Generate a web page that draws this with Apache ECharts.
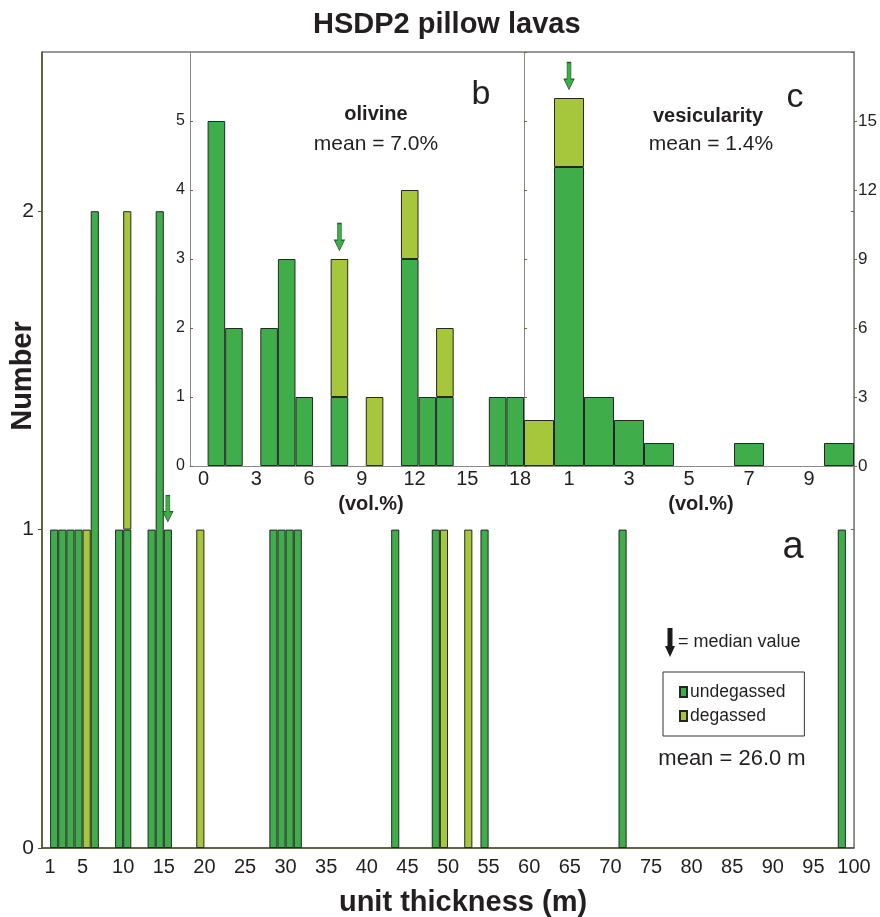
<!DOCTYPE html>
<html><head><meta charset="utf-8">
<script src="https://cdn.jsdelivr.net/npm/echarts@6/dist/echarts.min.js"></script>
<style>html,body{margin:0;padding:0;background:#fff}#c{width:880px;height:917px}</style>
</head><body><div id="c"></div><script>
// ---- Panel a: unit thickness (bin start, m) ----
const thicknessBins       = [1,2,3,4,5,6,9,10,13,14,15,19,28,29,30,31,43,48,49,52,54,71,98];
const thicknessUndegassed = [1,1,1,1,0,2,1,1,1,2,1,0,1,1,1,1,1,1,0,0,1,1,1];
const thicknessDegassed   = [0,0,0,0,1,0,0,1,0,0,0,1,0,0,0,0,0,0,1,1,0,0,0];
const thicknessTickLabels = [1,5,10,15,20,25,30,35,40,45,50,55,60,65,70,75,80,85,90,95,100];
const thicknessMedianBin  = 15;

// ---- Panel b: olivine (vol.%) ----
const olivineBins       = [0,1,2,3,4,5,6,7,8,9,10,11,12,13,14,15,16,17];
const olivineUndegassed = [5,2,0,2,3,1,0,1,0,0,0,3,1,1,0,0,1,1];
const olivineDegassed   = [0,0,0,0,0,0,0,2,0,1,0,1,0,1,0,0,0,0];
const olivineTickLabels = [0,3,6,9,12,15,18];
const olivineMedianBin  = 7;

// ---- Panel c: vesicularity (vol.%) ----
const vesicBins       = [0,1,2,3,4,5,6,7,8,9,10];
const vesicUndegassed = [0,13,3,2,1,0,0,1,0,0,1];
const vesicDegassed   = [2,3,0,0,0,0,0,0,0,0,0];
const vesicTickLabels = [1,3,5,7,9];
const vesicMedianBin  = 1;

const GREEN = '#3fae4a', YELLOW = '#a6c63c', EDGE = '#262626';
const FONT = 'Liberation Sans, Arial, sans-serif';
const TXT = '#231f20';

function range(a, b) { const r = []; for (let i = a; i <= b; i++) r.push(String(i)); return r; }
function mapTo(cats, bins, vals) {
  return cats.map(c => { const i = bins.indexOf(Number(c)); return (i >= 0 && vals[i] > 0) ? vals[i] : '-'; });
}
function total(bins, u, d, b) { const i = bins.indexOf(b); return u[i] + d[i]; }

const catsA = range(0, 99);
const catsB = range(-1, 17);
const catsC = range(0, 10);

const arrowPath = 'path://M3,0L7,0L7,16L10,16L5,26L0,16L3,16Z';
function arrow(cat, val, h, off) {
  return {
    symbol: arrowPath, symbolSize: [10, h], symbolOffset: [0, off], symbolKeepAspect: false,
    silent: true, label: { show: false },
    itemStyle: { color: GREEN, borderColor: '#1f5a26', borderWidth: 0.8 },
    data: [{ coord: [String(cat), val] }]
  };
}
const barBase = { type: 'bar', barWidth: '100%', barGap: '-100%', silent: true,
  itemStyle: { borderColor: EDGE, borderWidth: 1 } };

const olive = '#50502f', grey = '#8a8a8a';

const option = {
  animation: false,
  backgroundColor: '#fff',
  textStyle: { fontFamily: FONT, color: TXT },
  title: { text: 'HSDP2 pillow lavas', left: 313, top: 10, padding: 0,
    textStyle: { fontFamily: FONT, fontSize: 29, fontWeight: 'bold', color: TXT } },
  legend: {
    orient: 'vertical', left: 663, top: 672, itemWidth: 7, itemHeight: 10, itemGap: 6,
    padding: [11, 19, 11, 16], borderColor: '#333', borderWidth: 1, icon: 'rect',
    data: ['undegassed', 'degassed'], selectedMode: false,
    textStyle: { fontFamily: FONT, fontSize: 17.5, color: TXT, padding: [0, 0, 0, -2] }
  },
  grid: [
    { left: 42, top: 52, width: 812, height: 796, show: true, borderColor: '#333', borderWidth: 1 },
    { left: 190, top: 52, width: 334, height: 414 },
    { left: 524, top: 52, width: 330, height: 414 }
  ],
  xAxis: [
    { gridIndex: 0, type: 'category', data: catsA, position: 'bottom',
      axisLine: { onZero: false, lineStyle: { color: olive, width: 1.5 } },
      axisTick: { interval: 0, length: 5, lineStyle: { color: olive } },
      axisLabel: { show: false }, splitLine: { show: false } },
    { gridIndex: 0, type: 'value', min: 0, max: 100, interval: 1, position: 'bottom',
      axisLine: { show: false, onZero: false }, axisTick: { show: false }, splitLine: { show: false },
      axisLabel: { margin: 9, fontSize: 20, color: TXT, fontFamily: FONT,
        formatter: v => thicknessTickLabels.includes(v) ? String(v) : '' } },
    { gridIndex: 1, type: 'category', data: catsB, position: 'bottom',
      axisLine: { onZero: false, lineStyle: { color: grey } },
      axisTick: { interval: 0, length: 3, lineStyle: { color: '#555' } },
      axisLabel: { show: false }, splitLine: { show: false } },
    { gridIndex: 1, type: 'value', min: -1, max: 18, interval: 1, position: 'bottom',
      axisLine: { show: false, onZero: false }, axisTick: { show: false }, splitLine: { show: false },
      axisLabel: { margin: 3, fontSize: 20, color: TXT, fontFamily: FONT, padding: [0, 8, 0, 0],
        formatter: v => olivineTickLabels.includes(v) ? String(v) : '' } },
    { gridIndex: 2, type: 'category', data: catsC, position: 'bottom',
      axisLine: { onZero: false, lineStyle: { color: grey } },
      axisTick: { interval: 0, inside: true, length: 3, lineStyle: { color: '#555' } },
      axisLabel: { margin: 3, fontSize: 20, color: TXT, fontFamily: FONT,
        interval: (i, v) => vesicTickLabels.includes(Number(v)) },
      splitLine: { show: false } }
  ],
  yAxis: [
    { gridIndex: 0, type: 'value', min: 0, max: 2.5, interval: 1, position: 'left',
      axisLine: { show: true, onZero: false, lineStyle: { color: olive, width: 1.5 } },
      axisTick: { show: true, length: 4, lineStyle: { color: olive } },
      axisLabel: { margin: 8, fontSize: 21, color: TXT, fontFamily: FONT, showMaxLabel: false },
      splitLine: { show: false } },
    { gridIndex: 0, type: 'value', min: 0, max: 2.5, interval: 1, position: 'right',
      axisLine: { show: true, onZero: false, lineStyle: { color: grey } },
      axisTick: { show: true, inside: true, length: 3, lineStyle: { color: '#666' } },
      axisLabel: { show: false }, splitLine: { show: false } },
    { gridIndex: 1, type: 'value', min: 0, max: 6, interval: 1, position: 'left',
      axisLine: { show: true, onZero: false, lineStyle: { color: grey } },
      axisTick: { show: true, inside: true, length: 3, lineStyle: { color: '#6b6b3a' } },
      axisLabel: { margin: 5, fontSize: 16, color: TXT, fontFamily: FONT, showMaxLabel: false },
      splitLine: { show: false } },
    { gridIndex: 2, type: 'value', min: 0, max: 18, interval: 3, position: 'right',
      axisLine: { show: true, onZero: false, lineStyle: { color: grey } },
      axisTick: { show: true, length: 3, lineStyle: { color: '#6b6b3a' } },
      axisLabel: { margin: 4, fontSize: 17, color: TXT, fontFamily: FONT, showMaxLabel: false },
      splitLine: { show: false } },
    { gridIndex: 2, type: 'value', min: 0, max: 18, interval: 3, position: 'left',
      axisLine: { show: true, onZero: false, lineStyle: { color: grey } },
      axisTick: { show: true, inside: true, length: 3, lineStyle: { color: '#6b6b3a' } },
      axisLabel: { show: false }, splitLine: { show: false } }
  ],
  series: [
    Object.assign({}, barBase, { name: 'undegassed', xAxisIndex: 0, yAxisIndex: 0, stack: 'a',
      color: GREEN, data: mapTo(catsA, thicknessBins, thicknessUndegassed) }),
    Object.assign({}, barBase, { name: 'degassed', xAxisIndex: 0, yAxisIndex: 0, stack: 'a',
      color: YELLOW, data: mapTo(catsA, thicknessBins, thicknessDegassed),
      markPoint: arrow(thicknessMedianBin, total(thicknessBins, thicknessUndegassed, thicknessDegassed, thicknessMedianBin), 26, -21) }),
    Object.assign({}, barBase, { name: 'undegassed', xAxisIndex: 2, yAxisIndex: 2, stack: 'b',
      color: GREEN, data: mapTo(catsB, olivineBins, olivineUndegassed) }),
    Object.assign({}, barBase, { name: 'degassed', xAxisIndex: 2, yAxisIndex: 2, stack: 'b',
      color: YELLOW, data: mapTo(catsB, olivineBins, olivineDegassed),
      markPoint: arrow(olivineMedianBin, total(olivineBins, olivineUndegassed, olivineDegassed, olivineMedianBin), 27, -22) }),
    Object.assign({}, barBase, { name: 'undegassed', xAxisIndex: 4, yAxisIndex: 3, stack: 'c',
      color: GREEN, data: mapTo(catsC, vesicBins, vesicUndegassed) }),
    Object.assign({}, barBase, { name: 'degassed', xAxisIndex: 4, yAxisIndex: 3, stack: 'c',
      color: YELLOW, data: mapTo(catsC, vesicBins, vesicDegassed),
      markPoint: arrow(vesicMedianBin, total(vesicBins, vesicUndegassed, vesicDegassed, vesicMedianBin), 27, -22) })
  ],
  graphic: [
    { type: 'text', x: 23, y: 376, rotation: Math.PI / 2, silent: true,
      style: { text: 'Number', align: 'center', verticalAlign: 'middle', fill: TXT, font: 'bold 29px ' + FONT } },
    { type: 'text', x: 463, y: 903, silent: true,
      style: { text: 'unit thickness (m)', align: 'center', verticalAlign: 'middle', fill: TXT, font: 'bold 29px ' + FONT } },
    { type: 'text', x: 793, y: 548, silent: true,
      style: { text: 'a', align: 'center', verticalAlign: 'middle', fill: TXT, font: '38px ' + FONT } },
    { type: 'text', x: 481, y: 95, silent: true,
      style: { text: 'b', align: 'center', verticalAlign: 'middle', fill: TXT, font: '34px ' + FONT } },
    { type: 'text', x: 795, y: 98, silent: true,
      style: { text: 'c', align: 'center', verticalAlign: 'middle', fill: TXT, font: '34px ' + FONT } },
    { type: 'text', x: 376, y: 114, silent: true,
      style: { text: 'olivine', align: 'center', verticalAlign: 'middle', fill: TXT, font: 'bold 20px ' + FONT } },
    { type: 'text', x: 376, y: 144, silent: true,
      style: { text: 'mean = 7.0%', align: 'center', verticalAlign: 'middle', fill: TXT, font: '21px ' + FONT } },
    { type: 'text', x: 708, y: 116, silent: true,
      style: { text: 'vesicularity', align: 'center', verticalAlign: 'middle', fill: TXT, font: 'bold 20px ' + FONT } },
    { type: 'text', x: 711, y: 144, silent: true,
      style: { text: 'mean = 1.4%', align: 'center', verticalAlign: 'middle', fill: TXT, font: '21px ' + FONT } },
    { type: 'text', x: 371, y: 504, silent: true,
      style: { text: '(vol.%)', align: 'center', verticalAlign: 'middle', fill: TXT, font: 'bold 20px ' + FONT } },
    { type: 'text', x: 701, y: 504, silent: true,
      style: { text: '(vol.%)', align: 'center', verticalAlign: 'middle', fill: TXT, font: 'bold 20px ' + FONT } },
    { type: 'polygon', silent: true,
      shape: { points: [[667.5,628],[672.5,628],[672.5,646],[675,646],[670,657],[665,646],[667.5,646]] },
      style: { fill: '#1a1a1a' } },
    { type: 'text', x: 678, y: 642, silent: true,
      style: { text: '= median value', align: 'left', verticalAlign: 'middle', fill: TXT, font: '18px ' + FONT } },
    { type: 'text', x: 732, y: 759, silent: true,
      style: { text: 'mean = 26.0 m', align: 'center', verticalAlign: 'middle', fill: TXT, font: '22px ' + FONT } }
  ]
};
echarts.init(document.getElementById('c'), null, { renderer: 'canvas' }).setOption(option);
</script></body></html>
